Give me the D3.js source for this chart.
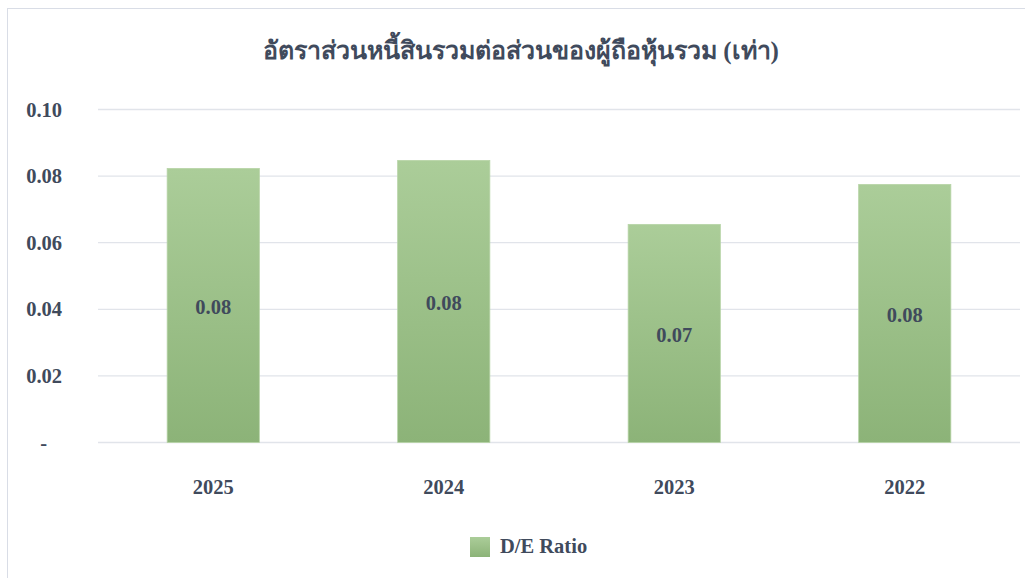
<!DOCTYPE html>
<html>
<head>
<meta charset="utf-8">
<script src="https://cdn.jsdelivr.net/npm/d3@7"></script>
<style>
  html, body { margin: 0; padding: 0; background: #fff; }
</style>
</head>
<body>
<div id="chart"></div>
<script>
const YEARS = ["2025", "2024", "2023", "2022"];
const DE_RATIO = [0.0823, 0.0847, 0.0655, 0.0775];
const Y_TICKS = [0, 0.02, 0.04, 0.06, 0.08, 0.10];
const TITLE = "อัตราส่วนหนี้สินรวมต่อส่วนของผู้ถือหุ้นรวม (เท่า)";
const SERIES_NAME = "D/E Ratio";

const W = 1025, H = 578;
const margin = { top: 109.5, right: 5, bottom: 135.5, left: 98 };
const w = W - margin.left - margin.right;
const h = H - margin.top - margin.bottom;
const FONT = "'Liberation Serif', 'Times New Roman', serif";
const TEXT = "#404a5c";
const FS = "20.5px";

const svg = d3.select("#chart").append("svg")
  .attr("width", W).attr("height", H)
  .style("font-family", FONT);

// outer frame (right edge runs off the page)
svg.append("rect").attr("x", 7.5).attr("y", 8.5).attr("width", W + 20).attr("height", H)
  .attr("fill", "#fff").attr("stroke", "#d9dde6").attr("stroke-width", 1);

const defs = svg.append("defs");
const grad = defs.append("linearGradient").attr("id", "barGrad")
  .attr("x1", 0).attr("y1", 0).attr("x2", 0).attr("y2", 1);
grad.append("stop").attr("offset", "0%").attr("stop-color", "#abcd99");
grad.append("stop").attr("offset", "100%").attr("stop-color", "#8cb378");

const g = svg.append("g").attr("transform", `translate(${margin.left},${margin.top})`);

const x = d3.scaleBand().domain(YEARS).range([0, w]).paddingInner(0.6).paddingOuter(0.3);
const y = d3.scaleLinear().domain([0, 0.10]).range([h, 0]);

// gridlines
g.append("g").selectAll("line").data(Y_TICKS).enter().append("line")
  .attr("x1", 0).attr("x2", w)
  .attr("y1", d => y(d)).attr("y2", d => y(d))
  .attr("stroke", "#e1e4ea").attr("stroke-width", 1.3);

// y axis labels
const yAxis = g.append("g")
  .call(d3.axisLeft(y).tickValues(Y_TICKS).tickSize(0).tickPadding(36)
    .tickFormat(d => d === 0 ? "-" : d3.format(".2f")(d)));
yAxis.select(".domain").remove();
yAxis.selectAll("text")
  .style("font-size", FS).style("font-weight", "bold").style("fill", TEXT)
  .style("font-family", FONT)
  .attr("dx", d => d === 0 ? "-15px" : "0");

// x axis labels
const xAxis = g.append("g").attr("transform", `translate(0,${h})`)
  .call(d3.axisBottom(x).tickSize(0).tickPadding(37));
xAxis.select(".domain").remove();
xAxis.selectAll("text")
  .style("font-size", FS).style("font-weight", "bold").style("fill", TEXT)
  .style("font-family", FONT);

// bars
g.selectAll(".bar").data(YEARS).enter().append("rect")
  .attr("class", "bar")
  .attr("x", d => x(d))
  .attr("y", (d, i) => y(DE_RATIO[i]))
  .attr("width", x.bandwidth())
  .attr("height", (d, i) => y(0) - y(DE_RATIO[i]))
  .attr("fill", "url(#barGrad)")
  .attr("stroke", "#b7d4a6").attr("stroke-width", 0.8);

// value labels
g.selectAll(".val").data(YEARS).enter().append("text")
  .attr("class", "val")
  .attr("x", d => x(d) + x.bandwidth() / 2)
  .attr("y", (d, i) => (y(DE_RATIO[i]) + y(0)) / 2 + 1)
  .attr("dy", "0.35em")
  .attr("text-anchor", "middle")
  .style("font-size", FS).style("font-weight", "bold").style("fill", TEXT)
  .text((d, i) => d3.format(".2f")(DE_RATIO[i]));

// title
svg.append("text").attr("x", 521).attr("y", 59).attr("text-anchor", "middle")
  .style("font-size", "25px").style("font-weight", "bold").style("fill", TEXT)
  .text(TITLE);

// legend
const legend = svg.append("g").attr("transform", "translate(470,537)");
legend.append("rect").attr("width", 20).attr("height", 20).attr("fill", "url(#barGrad)");
legend.append("text").attr("x", 30).attr("y", 16)
  .style("font-size", FS).style("font-weight", "bold").style("fill", TEXT)
  .text(SERIES_NAME);
</script>
</body>
</html>
